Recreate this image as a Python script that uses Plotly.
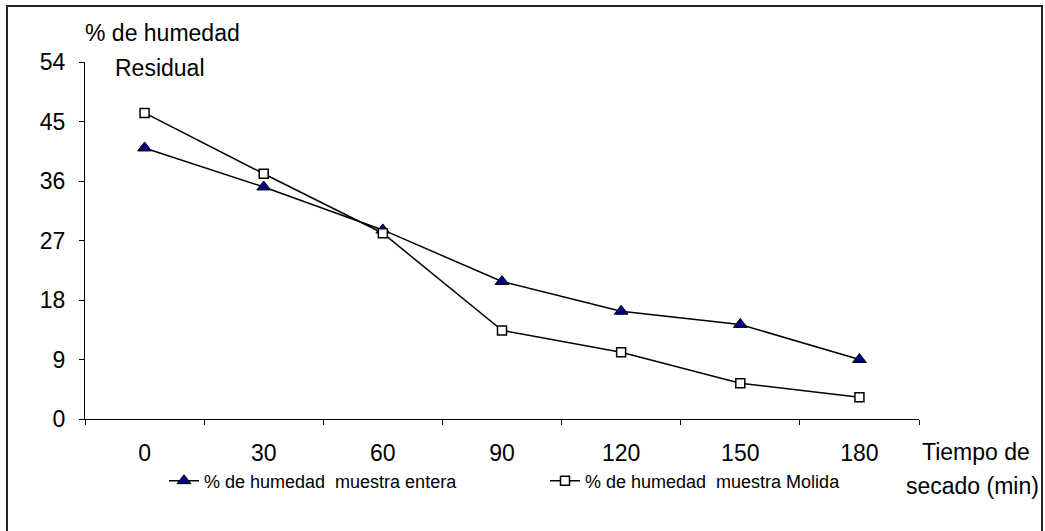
import plotly.graph_objects as go

# Drying time (min) and residual moisture (%) for the two samples
tiempos = ["0", "30", "60", "90", "120", "150", "180"]
humedad_entera = [41.0, 35.1, 28.6, 20.8, 16.3, 14.3, 9.0]
humedad_molida = [46.3, 37.1, 28.1, 13.4, 10.1, 5.4, 3.3]
nombre_entera = "% de humedad \u00a0muestra entera"
nombre_molida = "% de humedad \u00a0muestra Molida"
ticks_y = [0, 9, 18, 27, 36, 45, 54]

W, H = 1045, 531
ML, MR, MT, MB = 85, 126, 62, 112
PW, PH = W - ML - MR, H - MT - MB


def px(x):
    return (x - ML) / PW


def py(y):
    return (H - MB - y) / PH


FONT = "Liberation Sans, Arial, sans-serif"
FS = 23

fig = go.Figure()
fig.add_trace(go.Scatter(
    x=tiempos, y=humedad_entera, name=nombre_entera, mode="lines+markers",
    line=dict(color="black", width=1.5),
    marker=dict(symbol="triangle-up", size=12, color="#000080",
                line=dict(color="black", width=1)),
    legend="legend",
))
fig.add_trace(go.Scatter(
    x=tiempos, y=humedad_molida, name=nombre_molida, mode="lines+markers",
    line=dict(color="black", width=1.5),
    marker=dict(symbol="square", size=9, color="white",
                line=dict(color="black", width=1.5)),
    legend="legend2",
))

legend_style = dict(
    orientation="h", xanchor="left", yanchor="middle",
    font=dict(family=FONT, size=18, color="black"),
    bgcolor="rgba(0,0,0,0)", borderwidth=0,
)

fig.update_layout(
    width=W, height=H,
    margin=dict(l=ML, r=MR, t=MT, b=MB, pad=0),
    paper_bgcolor="white", plot_bgcolor="white",
    font=dict(family=FONT, color="black", size=FS),
    showlegend=True,
    legend=dict(x=px(164), y=py(481), **legend_style),
    legend2=dict(x=px(545), y=py(481), **legend_style),
    xaxis=dict(
        type="category", range=[-0.5, 6.5], tickson="boundaries",
        showline=True, linecolor="black", linewidth=1,
        ticks="outside", ticklen=5, tickcolor="black", tickwidth=1,
        ticklabelstandoff=13, showgrid=False, zeroline=False,
        tickfont=dict(size=FS),
    ),
    yaxis=dict(
        range=[0, 54], tickvals=ticks_y,
        showline=True, linecolor="black", linewidth=1,
        ticks="outside", ticklen=5, tickcolor="black", tickwidth=1,
        ticklabelstandoff=9, showgrid=False, zeroline=False,
        tickfont=dict(size=FS),
    ),
    shapes=[dict(
        type="rect", xref="paper", yref="paper",
        x0=px(7), x1=px(1042), y0=py(H + 10), y1=py(6),
        line=dict(color="#222222", width=2), fillcolor="rgba(0,0,0,0)",
        layer="below",
    )],
    annotations=[
        dict(text="% de humedad", x=px(162), y=py(33), xref="paper", yref="paper",
             showarrow=False, xanchor="center", yanchor="middle",
             font=dict(size=FS)),
        dict(text="Residual", x=px(160), y=py(68), xref="paper", yref="paper",
             showarrow=False, xanchor="center", yanchor="middle",
             font=dict(size=FS)),
        dict(text="Tiempo de", x=px(976), y=py(452), xref="paper", yref="paper",
             showarrow=False, xanchor="center", yanchor="middle",
             font=dict(size=FS)),
        dict(text="secado (min)", x=px(972), y=py(486), xref="paper", yref="paper",
             showarrow=False, xanchor="center", yanchor="middle",
             font=dict(size=FS)),
    ],
)

fig.write_html("out.html")
